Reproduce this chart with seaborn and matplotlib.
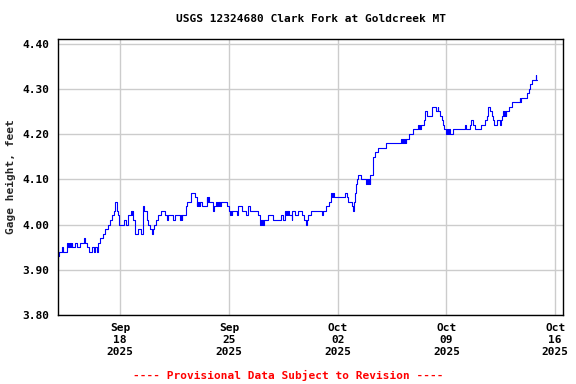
import pandas as pd
import matplotlib
matplotlib.use("Agg")
import matplotlib.pyplot as plt
import matplotlib.dates as mdates
import seaborn as sns

# Gage height readings: days since 2025-09-14 00:00 and value in feet (step data)
day_offset = [
    0.00, 0.09, 0.26, 0.34, 0.58, 0.63, 0.68, 0.73, 0.78, 0.84, 0.88, 0.90,
    1.12, 1.20, 1.42, 1.69, 1.76, 1.84, 2.01, 2.19, 2.29, 2.40, 2.49, 2.55,
    2.70, 2.87, 3.04, 3.19, 3.34, 3.47, 3.62, 3.69, 3.77, 3.84, 3.90, 4.27,
    4.37, 4.48, 4.70, 4.74, 4.78, 4.82, 4.85, 4.95, 5.12, 5.34, 5.49, 5.55,
    5.70, 5.81, 5.92, 6.02, 6.09, 6.20, 6.30, 6.45, 6.62, 6.88, 6.99, 7.10,
    7.42, 7.52, 7.85, 7.90, 7.95, 8.00, 8.06, 8.23, 8.32, 8.53, 8.81, 8.92,
    8.97, 9.02, 9.07, 9.12, 9.17, 9.24, 9.56, 9.61, 9.66, 9.71, 9.77, 9.99,
    10.06, 10.16, 10.22, 10.28, 10.34, 10.38, 10.42, 10.52, 10.85, 11.02, 11.07, 11.12,
    11.17, 11.23, 11.49, 11.60, 11.81, 12.13, 12.24, 12.35, 12.88, 12.99, 13.05, 13.10,
    13.15, 13.20, 13.25, 13.53, 13.85, 14.38, 14.49, 14.60, 14.66, 14.72, 14.78, 14.83,
    14.88, 15.03, 15.09, 15.24, 15.46, 15.73, 15.82, 15.95, 16.05, 16.10, 16.25, 16.96,
    17.06, 17.23, 17.45, 17.55, 17.60, 17.65, 17.70, 17.77, 18.46, 18.61, 18.67, 18.89,
    18.99, 19.06, 19.12, 19.21, 19.27, 19.32, 19.53, 19.85, 19.90, 19.95, 20.00, 20.05,
    20.11, 20.28, 20.38, 20.60, 21.14, 22.10, 22.16, 22.22, 22.28, 22.34, 22.38, 22.42,
    22.62, 22.85, 23.17, 23.22, 23.27, 23.32, 23.39, 23.54, 23.65, 23.75, 24.07, 24.31,
    24.44, 24.48, 24.61, 24.72, 24.78, 24.84, 25.00, 25.05, 25.10, 25.15, 25.21, 25.42,
    26.17, 26.24, 26.50, 26.60, 26.71, 26.82, 27.20, 27.46, 27.61, 27.70, 27.82, 27.91,
    28.00, 28.08, 28.25, 28.42, 28.48, 28.55, 28.64, 28.70, 28.76, 28.81, 28.86, 29.02,
    29.24, 29.71, 29.76, 29.81, 29.88, 30.18, 30.31, 30.40, 30.48, 30.74, 30.78, 30.84,
]
gage_ft = [
    3.93, 3.94, 3.95, 3.94, 3.96, 3.95, 3.96, 3.95, 3.96, 3.95, 3.96, 3.95,
    3.96, 3.95, 3.96, 3.97, 3.96, 3.95, 3.94, 3.95, 3.94, 3.95, 3.94, 3.96,
    3.97, 3.98, 3.99, 4.00, 4.01, 4.02, 4.03, 4.05, 4.03, 4.02, 4.00, 4.01,
    4.00, 4.02, 4.03, 4.02, 4.03, 4.02, 4.01, 3.98, 3.99, 3.98, 4.04, 4.03,
    4.01, 4.00, 3.99, 3.98, 3.99, 4.00, 4.01, 4.02, 4.03, 4.02, 4.01, 4.02,
    4.01, 4.02, 4.01, 4.02, 4.01, 4.02, 4.02, 4.04, 4.05, 4.07, 4.06, 4.04,
    4.05, 4.04, 4.05, 4.04, 4.05, 4.04, 4.06, 4.05, 4.06, 4.05, 4.05, 4.03,
    4.04, 4.05, 4.04, 4.05, 4.04, 4.05, 4.04, 4.05, 4.04, 4.03, 4.02, 4.03,
    4.02, 4.03, 4.02, 4.04, 4.03, 4.02, 4.04, 4.03, 4.02, 4.00, 4.01, 4.00,
    4.01, 4.00, 4.01, 4.02, 4.01, 4.02, 4.01, 4.03, 4.02, 4.03, 4.02, 4.03,
    4.02, 4.01, 4.03, 4.02, 4.03, 4.02, 4.01, 4.00, 4.01, 4.02, 4.03, 4.02,
    4.03, 4.04, 4.05, 4.06, 4.07, 4.06, 4.07, 4.06, 4.07, 4.06, 4.05, 4.04,
    4.03, 4.05, 4.07, 4.09, 4.10, 4.11, 4.10, 4.09, 4.10, 4.09, 4.10, 4.09,
    4.11, 4.15, 4.16, 4.17, 4.18, 4.19, 4.18, 4.19, 4.18, 4.19, 4.18, 4.19,
    4.20, 4.21, 4.22, 4.21, 4.22, 4.21, 4.22, 4.23, 4.25, 4.24, 4.26, 4.25,
    4.26, 4.25, 4.24, 4.23, 4.22, 4.21, 4.20, 4.21, 4.20, 4.21, 4.20, 4.21,
    4.22, 4.21, 4.22, 4.23, 4.22, 4.21, 4.22, 4.23, 4.24, 4.26, 4.25, 4.24,
    4.23, 4.22, 4.23, 4.22, 4.23, 4.24, 4.25, 4.24, 4.25, 4.24, 4.25, 4.26,
    4.27, 4.28, 4.27, 4.28, 4.28, 4.29, 4.30, 4.31, 4.32, 4.33, 4.32, 4.32,
]
tick_dates = ["2025-09-18", "2025-09-25", "2025-10-02", "2025-10-09", "2025-10-16"]
y_ticks = [3.80, 3.90, 4.00, 4.10, 4.20, 4.30, 4.40]

start = pd.Timestamp("2025-09-14 00:00")
df = pd.DataFrame({
    "time": start + pd.to_timedelta(day_offset, unit="D"),
    "gage": gage_ft,
})

sns.set_style("white")
plt.rcParams["font.family"] = ["DejaVu Sans Mono"]
plt.rcParams["font.weight"] = "bold"
plt.rcParams["font.size"] = 8

fig = plt.figure(figsize=(5.76, 3.84), dpi=100)
ax = fig.add_axes([58 / 576, 1 - 315 / 384, 505 / 576, 276 / 384])

sns.lineplot(data=df, x="time", y="gage", ax=ax, color="#0000ff",
             linewidth=0.8, drawstyle="steps-post", estimator=None)

ax.set_xlim(pd.Timestamp("2025-09-14 00:00"), pd.Timestamp("2025-10-16 12:00"))
ax.set_ylim(3.80, 4.41)
ax.set_xticks(pd.to_datetime(tick_dates))
ax.xaxis.set_major_formatter(mdates.DateFormatter("%b\n%d\n%Y"))
ax.set_yticks(y_ticks)
ax.set_yticklabels([f"{v:.2f}" for v in y_ticks])
ax.grid(True, color="#cccccc", linewidth=1.0)
ax.tick_params(length=0, pad=6, labelsize=8, colors="black")
for s in ax.spines.values():
    s.set_color("black")
    s.set_linewidth(1.0)

ax.set_xlabel("")
ax.set_ylabel("Gage height, feet", fontsize=8, fontweight="bold", labelpad=5)
ax.set_title("USGS 12324680 Clark Fork at Goldcreek MT", fontsize=8,
             fontweight="bold", color="black", pad=12)
fig.text(0.5, 1 - 375 / 384, "---- Provisional Data Subject to Revision ----",
         color="red", ha="center", va="center", fontsize=8, fontweight="bold")

fig.savefig("out.png", dpi=100)
